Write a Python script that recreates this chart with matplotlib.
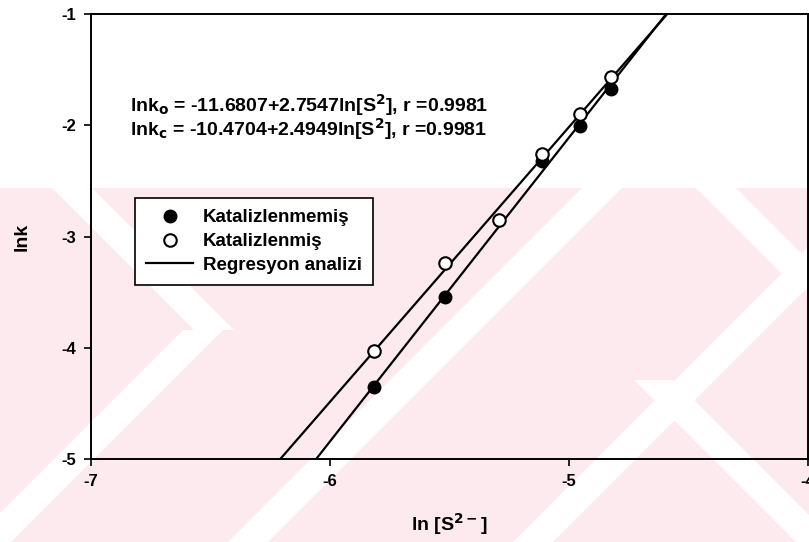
import numpy as np
import matplotlib.pyplot as plt
from matplotlib.patches import Polygon, Rectangle

plt.rcParams['font.family'] = ['Liberation Sans', 'DejaVu Sans']
plt.rcParams['mathtext.default'] = 'regular'
plt.rcParams['axes.unicode_minus'] = False

# veriler
x_kat_yok = [-5.816, -5.519, -5.113, -4.954, -4.824]
y_kat_yok = [-4.353, -3.544, -2.321, -2.007, -1.674]
x_kat = [-5.816, -5.519, -5.293, -5.113, -4.954, -4.824]
y_kat = [-4.029, -3.240, -2.852, -2.259, -1.899, -1.566]

x_ticks = [-7, -6, -5, -4]
y_ticks = [-5, -4, -3, -2, -1]

denklem_o = r'lnk$_{\mathbf{o}}$ = -11.6807+2.7547ln[S$^{\mathbf{2}}$], r =0.9981'
denklem_c = r'lnk$_{\mathbf{c}}$ = -10.4704+2.4949ln[S$^{\mathbf{2}}$], r =0.9981'

fig = plt.figure(figsize=(8.09, 5.42), dpi=100)

# arka plandaki filigran (pembe şeritler)
bg = fig.add_axes([0, 0, 1, 1], zorder=-5)
bg.set_xlim(0, 809)
bg.set_ylim(542, 0)
bg.axis('off')
pembe = '#fdeaee'
bg.add_patch(Rectangle((0, 188), 809, 354, color=pembe, lw=0))


def serit(x_ust, y_ust, y_alt, yon, w=40):
    # yon=+1 -> '\' , yon=-1 -> '/'
    d = (y_alt - y_ust) * yon
    bg.add_patch(Polygon([(x_ust, y_ust), (x_ust + w, y_ust),
                          (x_ust + w + d, y_alt), (x_ust + d, y_alt)],
                         color='white', lw=0))


serit(183, 330, 542, -1)
serit(52, 188, 330, 1)
serit(582, 188, 542, -1)
serit(867, 188, 542, -1)
serit(634, 380, 542, 1)
serit(696, 188, 290, 1)

ax = fig.add_axes([0.1125, 0.1531, 0.8863, 0.8211])
ax.set_facecolor('none')

xx = np.linspace(-7, -4, 50)
p1 = np.polyfit(x_kat_yok, y_kat_yok, 1)
p2 = np.polyfit(x_kat, y_kat, 1)
ax.plot(xx, np.polyval(p1, xx), color='black', lw=1.6, zorder=2)
ax.plot(xx, np.polyval(p2, xx), color='black', lw=1.6, zorder=2, label='Regresyon analizi')

ax.plot(x_kat_yok, y_kat_yok, 'o', color='black', ms=9, zorder=3, label='Katalizlenmemiş')
ax.plot(x_kat, y_kat, 'o', mfc='white', mec='black', mew=1.5, ms=9, zorder=4, label='Katalizlenmiş')

ax.set_xlim(-7, -4)
ax.set_ylim(-5, -1)
ax.set_xticks(x_ticks)
ax.set_yticks(y_ticks)
ax.tick_params(direction='out', length=5, width=1.2, labelsize=12, pad=6)
for lbl in ax.get_xticklabels() + ax.get_yticklabels():
    lbl.set_fontweight('bold')
for s in ax.spines.values():
    s.set_linewidth(1.4)

ax.text(-6.837, -1.82, denklem_o, fontsize=14, fontweight='bold', va='center')
ax.text(-6.837, -2.04, denklem_c, fontsize=14, fontweight='bold', va='center')

h_, l_ = ax.get_legend_handles_labels()
leg = ax.legend([h_[1], h_[2], h_[0]], [l_[1], l_[2], l_[0]], loc='upper left',
                bbox_to_anchor=(0.0614, 0.5865), borderaxespad=0, fancybox=False,
                framealpha=1, edgecolor='black', handlelength=2.5, borderpad=0.6,
                labelspacing=0.35, handletextpad=0.5,
                prop={'size': 13.5, 'weight': 'bold'})
leg.get_frame().set_linewidth(1.2)

ax.set_xlabel(r'ln [S$^{\mathbf{2-}}$]', fontsize=14, fontweight='bold', labelpad=16)
ax.set_ylabel('lnk', fontsize=14, fontweight='bold', labelpad=22)

fig.savefig('out.png', dpi=100)
